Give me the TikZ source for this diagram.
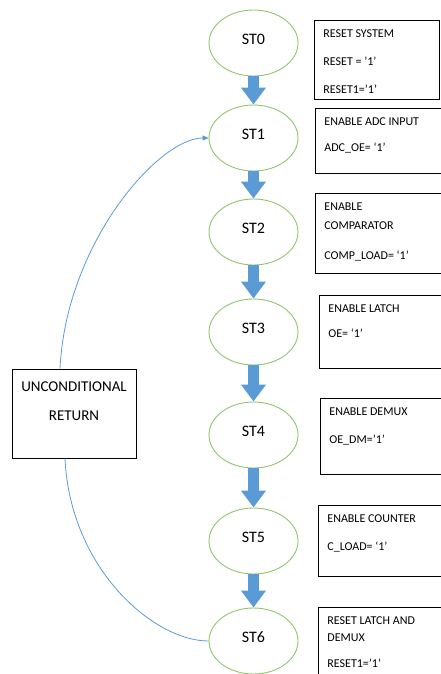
\documentclass[tikz,border=0pt]{standalone}
\usepackage{fontspec}
\setmainfont{Carlito}
\usetikzlibrary{shapes.geometric,arrows.meta}
\definecolor{stgreen}{RGB}{146,196,109}
\definecolor{flowblue}{RGB}{91,155,213}
\newcommand{\boxlines}[3]{\parbox[c][#1][t]{#2}{\raggedright\rule{0pt}{17pt}#3}}

\begin{document}
\begin{tikzpicture}[x=1pt,y=-1pt,
	state/.style={ellipse,draw=stgreen,line width=0.9pt,minimum width=89pt,minimum height=66pt,text depth=8pt,font=\fontsize{16}{18}\selectfont},
	info/.style={draw,line width=0.8pt,anchor=north west,inner xsep=9pt,inner ysep=0pt,font=\fontsize{12}{19}\selectfont},
	flow/.style={flowblue,line width=11pt,-{Triangle[width=24pt,length=17pt]}},
	back/.style={flowblue,line width=0.8pt}]
		\useasboundingbox (0,0) rectangle (440,674);
		\node[state] (s0) at (253.5,43) {ST0};
		\node[state] (s1) at (253.5,138) {ST1};
		\node[state] (s2) at (253.5,232) {ST2};
		\node[state] (s3) at (253.5,332) {ST3};
		\node[state] (s4) at (253.5,435) {ST4};
		\node[state] (s5) at (253.5,541) {ST5};
		\node[state] (s6) at (253.5,641) {ST6};
		\draw[flow] (s0.south)--(s1.north);
		\draw[flow] (s1.south)--(s2.north);
		\draw[flow] (s2.south)--(s3.north);
		\draw[flow] (s3.south)--(s4.north);
		\draw[flow] (s4.south)--(s5.north);
		\draw[flow] (s5.south)--(s6.north);
		\node[info] (b0) at (314,20) {\boxlines{79pt}{107pt}{RESET SYSTEM\\[9pt]RESET = ’1’\\[9pt]RESET1=’1’}};
		\node[info] (b1) at (315,108) {\boxlines{65pt}{125pt}{ENABLE ADC INPUT\\[7pt]ADC\_OE= ‘1’}};
		\node[info] (b2) at (315,193) {\boxlines{80pt}{125pt}{ENABLE\\COMPARATOR\\[11pt]COMP\_LOAD= ‘1’}};
		\node[info] (b3) at (319,295) {\boxlines{73pt}{125pt}{ENABLE LATCH\\[6pt]OE= ‘1’}};
		\node[info] (b4) at (320,398) {\boxlines{76pt}{125pt}{ENABLE DEMUX\\[9pt]OE\_DM=’1’}};
		\node[info] (b5) at (318,505) {\boxlines{71pt}{125pt}{ENABLE COUNTER\\[9pt]C\_LOAD= ‘1’}};
		\node[info] (b6) at (318,607) {\boxlines{80pt}{125pt}{RESET LATCH AND\\[-2pt]DEMUX\\[7pt]RESET1=’1’}};
		\node[draw,line width=0.9pt,inner sep=0pt,font=\fontsize{15}{18}\selectfont] (ret) at (74,413.5)
			{\parbox[c][89pt][t]{124pt}{\centering\rule{0pt}{22pt}UNCONDITIONAL\\[11pt]RETURN}};
		\draw[back] ([xshift=-9pt]ret.south) .. controls +(5,110) and +(-55,0) .. (s6.west);
		\draw[back,-{Triangle[length=6pt,width=5pt]}] ([xshift=-14pt]ret.north) .. controls +(6,-125) and +(-50,0) .. (s1.west);
\end{tikzpicture}
\end{document}
